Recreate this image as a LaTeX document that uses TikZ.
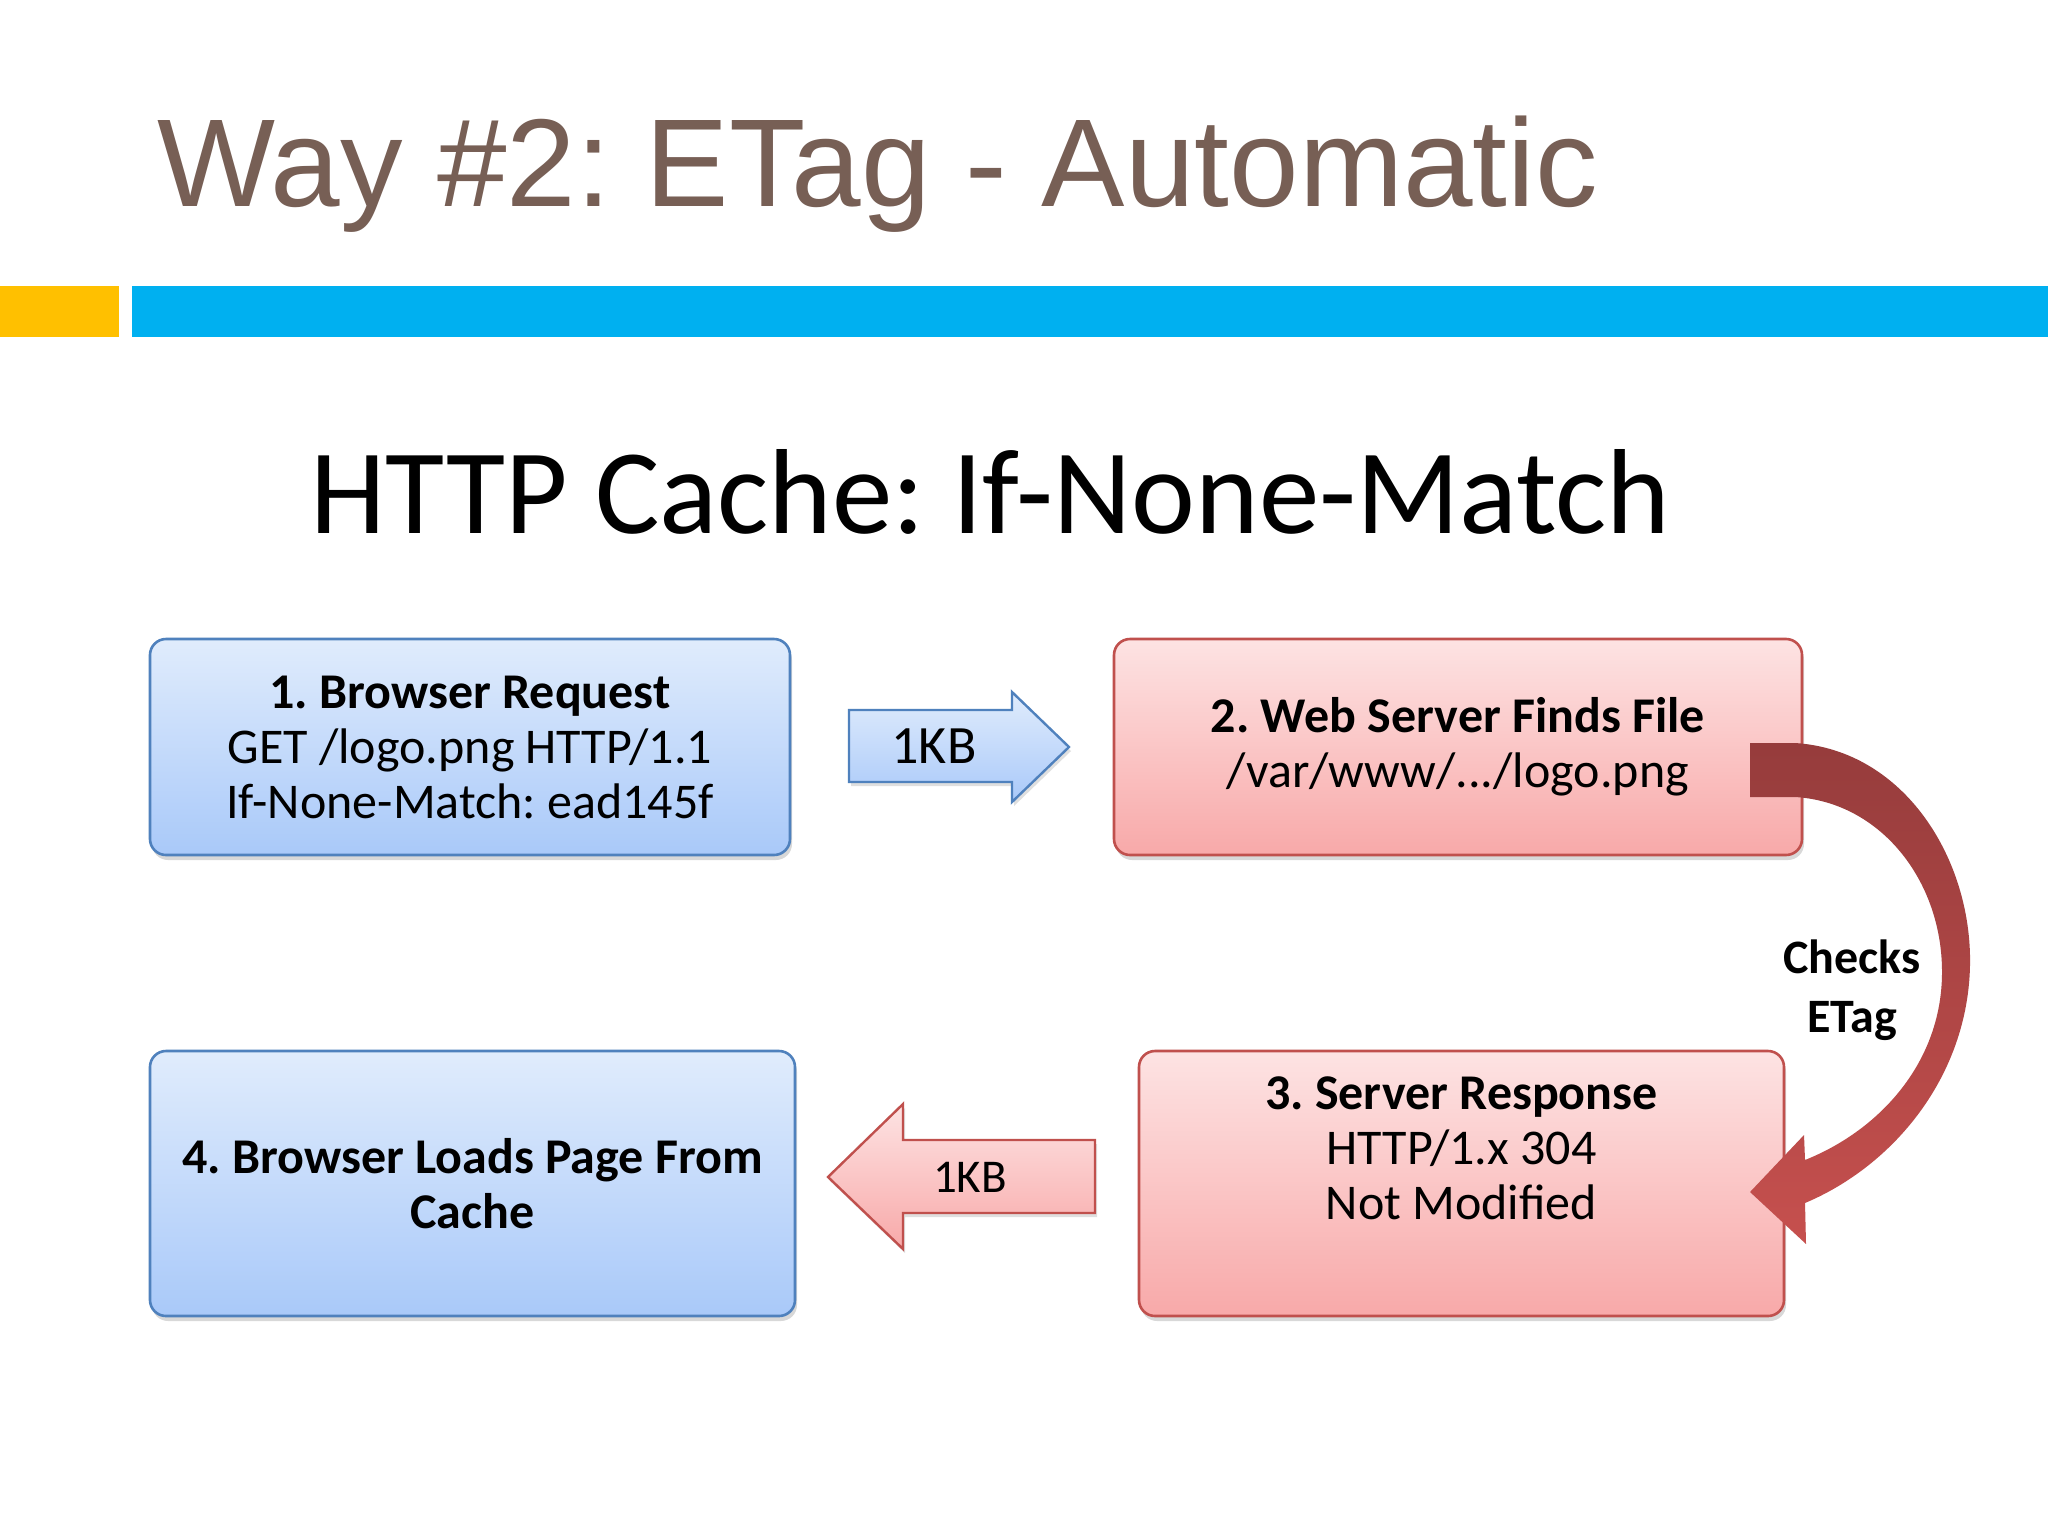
\documentclass[tikz,border=0pt]{standalone}
\usepackage{fontspec}
\setmainfont{Liberation Sans}
\newfontfamily\calfont{Carlito}
\usetikzlibrary{shadows}
\frenchspacing
\definecolor{titlebrown}{HTML}{775F55}
\definecolor{baryellow}{HTML}{FFC000}
\definecolor{barblue}{HTML}{00B0F0}
\definecolor{bluetop}{HTML}{E0ECFC}
\definecolor{bluebot}{HTML}{A9C9F9}
\definecolor{blueline}{HTML}{4F81BD}
\definecolor{redtop}{HTML}{FDE3E3}
\definecolor{redbot}{HTML}{F8A9A9}
\definecolor{redline}{HTML}{C0504D}
\definecolor{curvetop}{HTML}{963C3C}
\definecolor{curvebot}{HTML}{C6504E}
\tikzset{
  boxbase/.style={rounded corners=8pt, line width=1.3pt, align=center,
    font=\calfont\frenchspacing\fontsize{25}{27.5}\selectfont, text=black, inner sep=0pt,
    drop shadow={shadow xshift=1pt, shadow yshift=-2.5pt, opacity=0.3}},
  bluebox/.style={boxbase, draw=blueline, top color=bluetop, bottom color=bluebot},
  redbox/.style={boxbase, draw=redline, top color=redtop, bottom color=redbot},
  bluearrow/.style={draw=blueline, line width=1.2pt, line join=miter, top color=bluetop, bottom color=bluebot,
    drop shadow={shadow xshift=1pt, shadow yshift=-2pt, opacity=0.25}},
  redarrow/.style={draw=redline, line width=1.2pt, line join=miter, top color=redtop, bottom color=redbot,
    drop shadow={shadow xshift=1pt, shadow yshift=-2pt, opacity=0.25}},
  kblabel/.style={font=\calfont\fontsize{#1}{#1}\selectfont, text=black, inner sep=0pt},
}
\begin{document}
\begin{tikzpicture}[x=0.5pt,y=-0.5pt]
\useasboundingbox (0,0) rectangle (2048,1536);
\fill[white] (0,0) rectangle (2048,1536);
% header bars
\fill[baryellow] (0,286) rectangle (119,337);
\fill[barblue] (132,286) rectangle (2048,337);
% titles
\node[anchor=base west, inner sep=0pt, text=titlebrown, font=\frenchspacing\fontsize{62.5}{62.5}\selectfont] (title) at (157,206) {Way \#2: ETag - Automatic};
\node[anchor=base west, inner sep=0pt, text=black, font=\calfont\frenchspacing\fontsize{60.5}{60.5}\selectfont] (subtitle) at (310,533) {HTTP Cache: If-None-Match};
% boxes
\node[bluebox, minimum width=320pt, minimum height=108pt] (b1) at (470,747)
  {\textbf{1. Browser Request}\\GET /logo.png HTTP/1.1\\If-None-Match: ead145f};
\node[redbox, minimum width=344pt, minimum height=108pt] (b2) at (1458,747)
  {\textbf{2. Web Server Finds File}\\/var/www/.../logo.png};
\node[redbox, minimum width=322.5pt, minimum height=132.5pt] (b3) at (1461.5,1183.5)
  {\textbf{3. Server Response}\\HTTP/1.x 304\\Not Modified\\\strut};
\node[bluebox, minimum width=322.5pt, minimum height=132.5pt] (b4) at (472.5,1183.5)
  {\textbf{4. Browser Loads Page From}\\\textbf{Cache}};
% block arrow right
\path[bluearrow] (849,710) -- (1012,710) -- (1012,692) -- (1069,747) -- (1012,802) -- (1012,782) -- (849,782) -- cycle;
\node[kblabel=27] (kb1) at (934,746) {1KB};
% block arrow left
\path[redarrow] (1095,1140) -- (903,1140) -- (903,1104) -- (828,1177) -- (903,1249) -- (903,1213) -- (1095,1213) -- cycle;
\node[kblabel=23.5] (kb2) at (970,1177) {1KB};
% curved arrow
\path[top color=curvetop, bottom color=curvebot]
  (1750,743) -- (1795,743)
  .. controls (1905,750) and (1972,860) .. (1970,965)
  .. controls (1968,1075) and (1895,1165) .. (1805,1203)
  -- (1806,1244) -- (1750,1192) -- (1804,1135) -- (1805,1160)
  .. controls (1880,1130) and (1942,1062) .. (1942,972)
  .. controls (1942,880) and (1880,802) .. (1795,797)
  -- (1750,797) -- cycle;
\node[align=center, font=\calfont\bfseries\fontsize{24}{29.5}\selectfont, text=black, inner sep=0pt] (checks) at (1852,990) {Checks\\ETag};
\end{tikzpicture}
\end{document}
